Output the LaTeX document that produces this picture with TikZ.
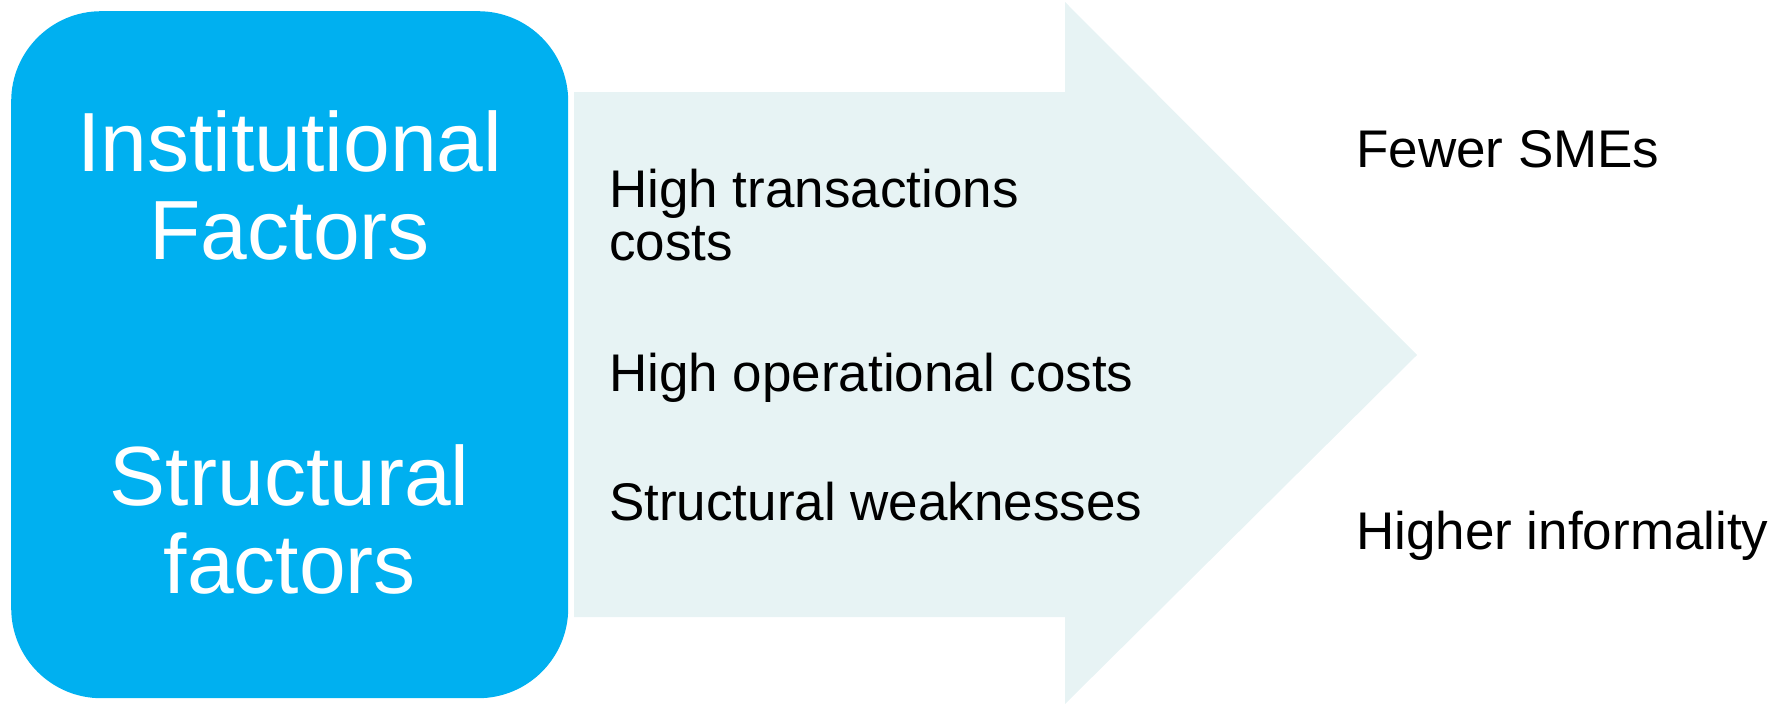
\documentclass[tikz,border=0pt]{standalone}
\usepackage{fontspec}
\setmainfont{Liberation Sans}
\usetikzlibrary{positioning}
\definecolor{factorblue}{HTML}{00B0F0}
\definecolor{arrowfill}{HTML}{E7F3F4}
\tikzstyle{factorbox}=[
	rectangle,
	fill=factorblue,
	rounded corners=90pt,
	minimum width=557pt,
	minimum height=687pt,
	inner sep=0pt
	]
\tikzstyle{boxtext}=[
	text=white,
	align=center,
	inner sep=0pt,
	font=\fontsize{84}{88}\selectfont
	]
\tikzstyle{effect}=[
	text=black,
	align=left,
	inner sep=0pt,
	anchor=base west,
	font=\fontsize{53}{53}\selectfont
	]

\begin{document}
\begin{tikzpicture}[x=1pt, y=-1pt]

		\useasboundingbox (0,0) rectangle (1789,704);

		% big arrow behind the effects
		\fill[arrowfill] (574,92) -- (1065,92) -- (1065,2) -- (1417,355)
			-- (1065,704) -- (1065,617) -- (574,617) -- cycle;

		\node (FactorsBox) [factorbox, anchor=north west] at (11,11) {};

		% base of a two-line node sits on its last line
		\node (Institutional) [boxtext, anchor=base] at (FactorsBox.center |- 0,259) {
			Institutional\\Factors
		};
		\node (Structural) [boxtext, anchor=base] at (FactorsBox.center |- 0,593) {
			Structural\\factors
		};

		\node (TransactionCosts) [effect] at (609,260) {High transactions\\costs};
		\node (OperationalCosts) [effect] at (609,391) {High operational costs};
		\node (Weaknesses) [effect] at (609,520) {Structural weaknesses};

		\node (FewerSMEs) [effect] at (1356,167) {Fewer SMEs};
		\node (Informality) [effect] at (1356,549) {Higher informality};

	\end{tikzpicture}
\end{document}
